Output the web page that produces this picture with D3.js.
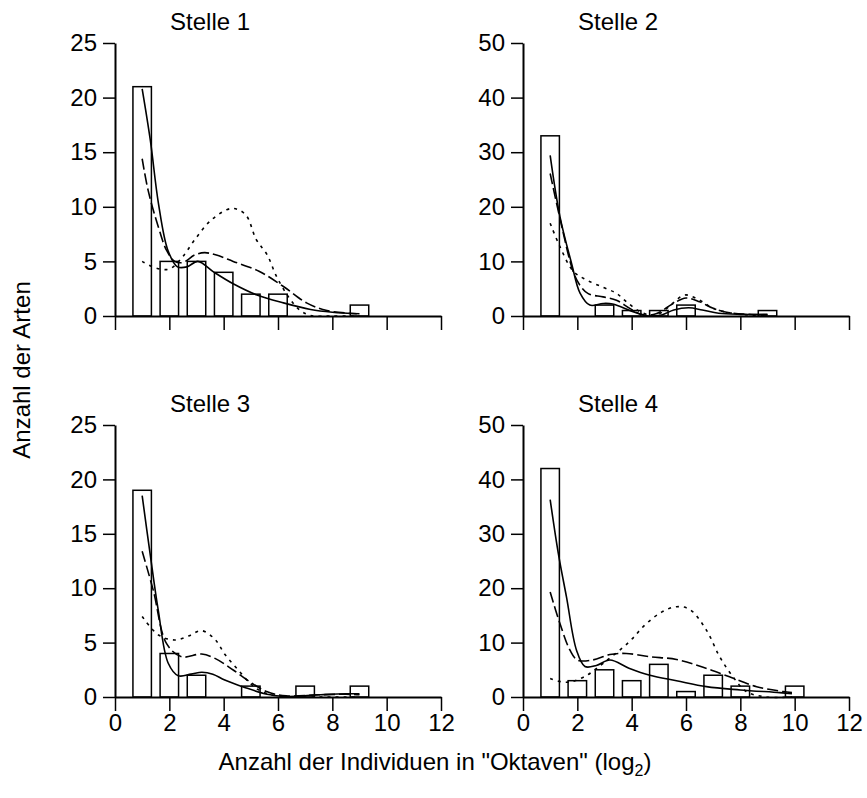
<!DOCTYPE html>
<html>
<head>
<meta charset="utf-8">
<script src="https://cdn.jsdelivr.net/npm/d3@7"></script>
<style>
  body { margin: 0; background: #fff; }
  svg text { font-family: "Liberation Sans", Arial, sans-serif; fill: #000; }
</style>
</head>
<body>
<svg id="chart" width="867" height="798"></svg>
<script>
// bars: octave class -> number of species
const stelle1Bars = [[1,21],[2,5],[3,5],[4,4],[5,2],[6,2],[9,1]];
const stelle2Bars = [[1,33],[3,2],[4,1],[5,1],[6,2],[9,1]];
const stelle3Bars = [[1,19],[2,4],[3,2],[5,1],[7,1],[9,1]];
const stelle4Bars = [[1,42],[2,3],[3,5],[4,3],[5,6],[6,1],[7,4],[8,2],[10,2]];

// fitted curves (solid, long dash, dotted)
const stelle1Solid = [[1,20.8],[1.3,16.1],[1.6,10.3],[1.95,6.0],[2.3,4.5],[2.65,4.5],[3.05,5.0],[3.65,4.0],[4.35,2.95],[5.2,1.95],[6.2,1.2],[7.2,0.6],[8,0.35],[9,0.2]];
const stelle1Long = [[1,14.4],[1.22,11.5],[1.59,8.2],[1.9,6.0],[2.2,5.0],[2.5,4.9],[2.94,5.6],[3.3,5.8],[3.7,5.6],[4.35,5.0],[5.3,4.1],[6.2,2.7],[7.05,1.2],[7.8,0.5],[8.9,0.2]];
const stelle1Dot = [[1,5.0],[1.5,4.4],[2.0,4.3],[2.45,5.3],[2.94,7.0],[3.55,8.8],[4.3,9.85],[4.8,9.3],[5.2,7.0],[5.6,5.6],[5.95,3.6],[6.4,1.7],[6.8,0.55],[7.2,0.05],[8,0],[9,0]];

const stelle2Solid = [[1,29.4],[1.36,18.2],[1.79,9.6],[2.1,4.2],[2.46,2.0],[2.95,2.3],[3.3,2.2],[4.05,0.8],[4.55,0.05],[5.1,0.2],[5.55,1.1],[6.1,1.5],[6.6,1.1],[7.2,0.5],[8,0.3],[9,0.3]];
const stelle2Long = [[1,26.1],[1.4,17],[1.85,8.1],[2.1,5.6],[2.4,4.1],[2.95,3.5],[3.44,2.9],[3.93,1.4],[4.42,0.2],[4.9,0.4],[5.5,2.2],[6.0,3.3],[6.5,2.6],[7,1.4],[7.6,0.6],[8.3,0.3],[9,0.2]];
const stelle2Dot = [[1,17],[1.36,12.7],[1.85,8.2],[2.34,6.6],[2.95,5.25],[3.44,4.15],[3.81,2.6],[4.3,0.8],[4.67,0.2],[5.05,0.5],[5.5,2.3],[5.96,3.85],[6.5,2.9],[7,1.4],[7.6,0.6],[8.3,0.2],[9,0.1]];

const stelle3Solid = [[1,18.5],[1.29,13.2],[1.59,8.0],[1.96,3.1],[2.33,1.95],[2.8,2.1],[3.2,2.27],[3.6,2.1],[4.04,1.56],[4.75,0.9],[5.6,0.25],[6.3,0.05],[7.5,0.2],[8.5,0.3],[9,0.3]];
const stelle3Long = [[1,13.4],[1.41,9.8],[1.9,4.9],[2.45,3.7],[3.19,3.95],[3.68,3.55],[4.35,2.48],[4.96,1.4],[5.58,0.5],[6.3,0.1],[7.5,0.2],[8.5,0.25],[9,0.2]];
const stelle3Dot = [[1,7.4],[1.6,5.7],[2.2,5.24],[2.7,5.6],[3.19,6.1],[3.68,5.3],[4.05,3.9],[4.53,2.5],[5.0,1.2],[5.4,0.5],[5.94,0.1],[7,0],[9,0]];

const stelle4Solid = [[1,36.3],[1.3,26.4],[1.6,18.4],[1.97,8.6],[2.28,5.6],[2.7,5.8],[3.2,6.8],[3.9,5.3],[4.67,4.0],[5.65,3.0],[6.75,1.9],[8,1.3],[9.45,0.8],[9.9,0.6]];
const stelle4Long = [[1,19.3],[1.36,13.5],[1.73,8.6],[2.0,6.8],[2.55,6.8],[3.2,7.8],[3.8,8.0],[4.67,7.4],[5.65,6.9],[6.63,5.45],[7.6,3.7],[8.6,1.9],[9.57,1.0],[9.9,0.8]];
const stelle4Dot = [[1,3.4],[1.6,2.7],[2.25,3.7],[2.95,6.2],[3.9,10.1],[4.5,13.3],[5.1,15.6],[5.65,16.6],[6.14,16.1],[6.75,12.3],[7.24,7.4],[7.73,3.7],[8.22,1.0],[8.96,0],[9.9,0]];

const titles = ["Stelle 1","Stelle 2","Stelle 3","Stelle 4"];
const yMaxes = [25, 50, 25, 50];
const yTicks = [[0,5,10,15,20,25],[0,10,20,30,40,50],[0,5,10,15,20,25],[0,10,20,30,40,50]];
const xTicks = [0,2,4,6,8,10,12];

const panels = [
  {bars: stelle1Bars, solid: stelle1Solid, long: stelle1Long, dot: stelle1Dot},
  {bars: stelle2Bars, solid: stelle2Solid, long: stelle2Long, dot: stelle2Dot},
  {bars: stelle3Bars, solid: stelle3Solid, long: stelle3Long, dot: stelle3Dot},
  {bars: stelle4Bars, solid: stelle4Solid, long: stelle4Long, dot: stelle4Dot}
];

const svg = d3.select("#chart");
const fs = 24;
const cols = [[115,441],[523,849]];
const rows = [[43,316],[425,697]];
const barHalf = 0.34;

panels.forEach((p, i) => {
  const [x0, x1] = cols[i % 2];
  const [y0, y1] = rows[Math.floor(i / 2)];
  const x = d3.scaleLinear().domain([0,12]).range([x0,x1]);
  const y = d3.scaleLinear().domain([0,yMaxes[i]]).range([y1,y0]);
  const g = svg.append("g");

  // bars
  g.selectAll(".bar")
    .data(p.bars)
    .enter()
    .append("rect")
    .attr("x", d => x(d[0]-barHalf))
    .attr("width", d => x(d[0]+barHalf) - x(d[0]-barHalf))
    .attr("y", d => y(d[1]))
    .attr("height", d => y(0) - y(d[1]))
    .attr("fill", "white")
    .attr("stroke", "black")
    .attr("stroke-width", 1.5);

  const line = d3.line().x(d => x(d[0])).y(d => y(d[1])).curve(d3.curveCatmullRom.alpha(0.5));
  [[p.solid, null],[p.long, "11,4"],[p.dot, "3,5"]].forEach(([pts, dash]) => {
    g.append("path")
      .attr("d", line(pts))
      .attr("fill", "none")
      .attr("stroke", "black")
      .attr("stroke-width", 1.6)
      .attr("stroke-dasharray", dash);
  });

  // axes
  const yAxis = g.append("g")
    .attr("transform", `translate(${x0},0)`)
    .call(d3.axisLeft(y).tickValues(yTicks[i]).tickSize(12).tickSizeOuter(0).tickPadding(6));
  const xAxis = g.append("g")
    .attr("transform", `translate(0,${y1})`)
    .call(d3.axisBottom(x).tickValues(xTicks).tickSize(14).tickSizeOuter(0).tickPadding(3)
      .tickFormat(i < 2 ? "" : d3.format("d")));
  [yAxis, xAxis].forEach(a => {
    a.select(".domain").attr("stroke-width", 2);
    a.selectAll(".tick line").attr("stroke-width", 1.5);
    a.selectAll("text").attr("font-size", fs).attr("font-family", "Liberation Sans, Arial, sans-serif");
  });

  g.append("text")
    .attr("x", x(3.5))
    .attr("y", y0 - 13)
    .attr("text-anchor", "middle")
    .attr("font-size", fs)
    .text(titles[i]);
});

svg.append("text")
  .attr("transform", "translate(30,370) rotate(-90)")
  .attr("text-anchor", "middle")
  .attr("font-size", fs)
  .text("Anzahl der Arten");

const xt = svg.append("text")
  .attr("x", 435)
  .attr("y", 770)
  .attr("text-anchor", "middle")
  .attr("font-size", fs);
xt.append("tspan").text("Anzahl der Individuen in \"Oktaven\" (log");
xt.append("tspan").attr("font-size", 16).attr("dy", 6).text("2");
xt.append("tspan").attr("dy", -6).text(")");
</script>
</body>
</html>
